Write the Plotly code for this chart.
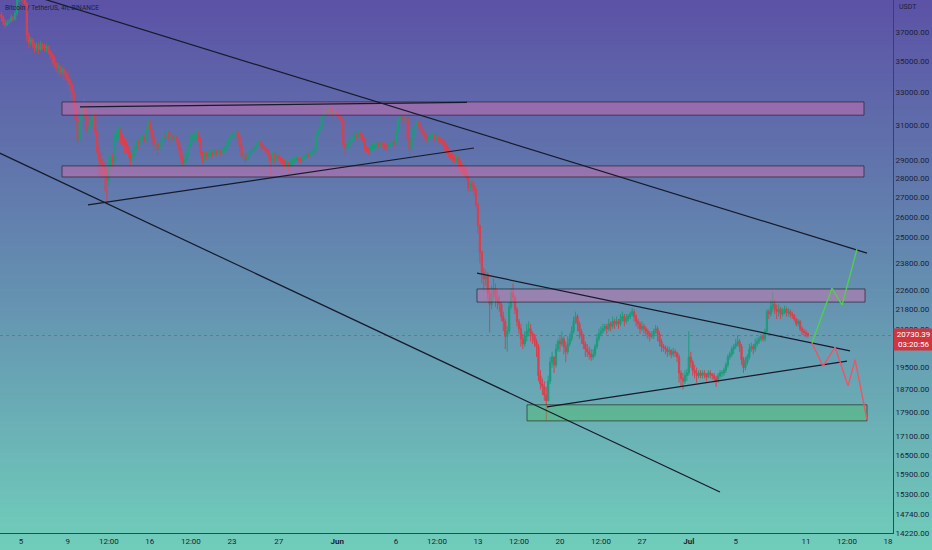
import math
import pandas as pd
import plotly.graph_objects as go

# ---------------- data (BTC/USDT 4h, Binance) ----------------
first_open = 38300
closes = [
    38100, 37700, 37500, 37750,                      # May 3 (from 08:00)
    37800, 38100, 37950, 38400, 39400, 39650,        # May 4
    39700, 39400, 39100, 36800, 36300, 36500,        # May 5
    36200, 35900, 36100, 35800, 36200, 36000,        # May 6
    35900, 36050, 35700, 35500, 35300, 34900,        # May 7
    34600, 34700, 34300, 34500, 34200, 34000,        # May 8
    33800, 33500, 33000, 32200, 31300, 30100,        # May 9
    31200, 31800, 32200, 31500, 30700, 30900,        # May 10
    31300, 31700, 30600, 29500, 29000, 28800,        # May 11
    28600, 28300, 27900, 28700, 29100, 28900,        # May 12
    30400, 30500, 30700, 30300, 30100, 29900,        # May 13
    29700, 29400, 29000, 29300, 29600, 30000,        # May 14
    29900, 30200, 30300, 30100, 30700, 31200,        # May 15
    30700, 30300, 29800, 29900, 29600, 29800,        # May 16
    30100, 30400, 30300, 30600, 30200, 30400,        # May 17
    30200, 30300, 30000, 29600, 29100, 28800,        # May 18
    29000, 29300, 29800, 30200, 30300, 30300,        # May 19
    30400, 30200, 29400, 29100, 29300, 29200,        # May 20
    29300, 29400, 29300, 29500, 29400, 29450,        # May 21
    29400, 29500, 29600, 29800, 30200, 30300,        # May 22
    30400, 30500, 30600, 30300, 29800, 29200,        # May 23
    29300, 29000, 29200, 29400, 29500, 29600,        # May 24
    29700, 29900, 30000, 29800, 29700, 29600,        # May 25
    29500, 29200, 29000, 29300, 29100, 29200,        # May 26
    29100, 29000, 28900, 28700, 28800, 28700,        # May 27
    28800, 28900, 29000, 29100, 29000, 29000,        # May 28
    29100, 29200, 29300, 29200, 29400, 29450,        # May 29
    29600, 30400, 30700, 30900, 31500, 31700,        # May 30
    31900, 31700, 32000, 31800, 31600, 31800,        # May 31
    31600, 31500, 31300, 29900, 29700, 29800,        # Jun 1
    29900, 30100, 30200, 30400, 30300, 30500,        # Jun 2
    30400, 30200, 29700, 29600, 29500, 29700,        # Jun 3
    29700, 29800, 29900, 29800, 29900, 29850,        # Jun 4
    29800, 29700, 29800, 29900, 30000, 29900,        # Jun 5
    30600, 31300, 31500, 31400, 31300, 31400,        # Jun 6
    30200, 29600, 30200, 30800, 31000, 31200,        # Jun 7
    30900, 30700, 30500, 30300, 30200, 30300,        # Jun 8
    30300, 30400, 30200, 30300, 30100, 30100,        # Jun 9
    30000, 29800, 29600, 29400, 29200, 29100,        # Jun 10
    29000, 29100, 28900, 28600, 28500, 28400,        # Jun 11
    28100, 27500, 27700, 27600, 27400, 26600,        # Jun 12
    25600, 24300, 23400, 23100, 23300, 22500,        # Jun 13
    22000, 22400, 22700, 22300, 22100, 22000,        # Jun 14
    21500, 21300, 20700, 20900, 21900, 22500,        # Jun 15
    22300, 21800, 21300, 21000, 20600, 20400,        # Jun 16
    20700, 20900, 21000, 20800, 20700, 20500,        # Jun 17
    20300, 19200, 18900, 18800, 18500, 18300,        # Jun 18
    19000, 19700, 19900, 19600, 20200, 20500,        # Jun 19
    20400, 20600, 20300, 20100, 20400, 20600,        # Jun 20
    20900, 21300, 21500, 21200, 20900, 20700,        # Jun 21
    20400, 20200, 20100, 20000, 19900, 20000,        # Jun 22
    20300, 20600, 20800, 20900, 21000, 21100,        # Jun 23
    21000, 21200, 21100, 21300, 21200, 21300,        # Jun 24
    21200, 21400, 21500, 21300, 21400, 21500,        # Jun 25
    21600, 21700, 21500, 21300, 21200, 21000,        # Jun 26
    21100, 21000, 20900, 20800, 20700, 20750,        # Jun 27
    20900, 21000, 20800, 20500, 20300, 20250,        # Jun 28
    20200, 20100, 20150, 20000, 20100, 20050,        # Jun 29
    19900, 19300, 19100, 19000, 19200, 19300,        # Jun 30
    19900, 19700, 19400, 19300, 19200, 19300,        # Jul 1
    19200, 19300, 19250, 19150, 19300, 19250,        # Jul 2
    19200, 19100, 19000, 19200, 19300, 19300,        # Jul 3
    19400, 19600, 19900, 20000, 20200, 20300,        # Jul 4
    20400, 20500, 20300, 19800, 19500, 19700,        # Jul 5
    19900, 20200, 20300, 20200, 20400, 20500,        # Jul 6
    20600, 20700, 20600, 20900, 21700, 21600,        # Jul 7
    21900, 22000, 21800, 21700, 21800, 21600,        # Jul 8
    21700, 21800, 21650, 21700, 21600, 21550,        # Jul 9
    21400, 21200, 21300, 21000, 20900, 20850,        # Jul 10
    20800, 20730.39,                                 # Jul 11
]
highs = [
    38500, 38200, 37900, 37900,
    37950, 38300, 38200, 38600, 39900, 39800,
    39900, 39800, 39500, 39200, 37000, 36700,
    36600, 36300, 36300, 36300, 36400, 36300,
    36200, 36200, 36100, 35800, 35600, 35400,
    35000, 34900, 34800, 34700, 34600, 34400,
    34300, 33900, 33600, 33200, 32300, 31400,
    31500, 32200, 32650, 32400, 31600, 31200,
    31600, 32100, 31900, 30700, 29800, 29400,
    29100, 28900, 28700, 29300, 29300, 29400,
    30500, 30700, 30950, 30800, 30500, 30300,
    30100, 29800, 29500, 29500, 29800, 30200,
    30200, 30400, 30500, 30500, 30900, 31400,
    31300, 30800, 30400, 30200, 30000, 30000,
    30300, 30600, 30600, 30700, 30600, 30600,
    30500, 30500, 30400, 30100, 29700, 29300,
    29300, 29500, 29900, 30500, 30500, 30500,
    30700, 30600, 30300, 29500, 29500, 29500,
    29500, 29600, 29500, 29600, 29600, 29600,
    29600, 29700, 29800, 30000, 30300, 30450,
    30600, 30600, 30650, 30600, 30400, 29900,
    29500, 29300, 29400, 29600, 29700, 29800,
    29900, 30100, 30200, 30100, 29900, 29800,
    29700, 29600, 29300, 29500, 29400, 29400,
    29300, 29200, 29100, 29000, 29000, 28900,
    29000, 29100, 29200, 29200, 29200, 29100,
    29200, 29300, 29400, 29400, 29500, 29600,
    29800, 30500, 30900, 31000, 31600, 31800,
    32200, 32100, 32350, 32200, 31900, 32000,
    31900, 31700, 31600, 31400, 30000, 30000,
    30100, 30300, 30400, 30600, 30500, 30700,
    30600, 30500, 30300, 29800, 29700, 29800,
    29900, 29900, 30000, 30000, 30000, 30000,
    30000, 29900, 29900, 30000, 30100, 30100,
    30800, 31500, 31700, 31600, 31500, 31600,
    31400, 30300, 30400, 31000, 31200, 31500,
    31300, 31000, 30800, 30600, 30500, 30500,
    30500, 30600, 30500, 30500, 30400, 30300,
    30200, 30100, 29900, 29700, 29500, 29400,
    29300, 29300, 29200, 29000, 28800, 28700,
    28600, 28200, 27900, 27900, 27800, 27500,
    26700, 25600, 24400, 23600, 23500, 23400,
    22700, 22800, 23100, 22900, 22600, 22400,
    22100, 21700, 21400, 21100, 22100, 22700,
    22900, 22400, 21900, 21400, 21200, 20800,
    20900, 21200, 21300, 21200, 20900, 20800,
    20600, 20400, 19400, 19100, 19000, 18800,
    19200, 19900, 20100, 19900, 20400, 20600,
    20700, 20900, 20700, 20500, 20700, 20800,
    21100, 21500, 21700, 21600, 21300, 21000,
    20800, 20500, 20400, 20300, 20200, 20200,
    20400, 20800, 21000, 21100, 21200, 21200,
    21200, 21400, 21300, 21500, 21400, 21500,
    21400, 21600, 21700, 21600, 21600, 21600,
    21700, 21860, 21800, 21600, 21400, 21300,
    21300, 21200, 21100, 21000, 20900, 20900,
    21000, 21150, 21100, 20900, 20600, 20400,
    20350, 20300, 20300, 20200, 20250, 20200,
    20100, 20000, 19400, 19300, 19400, 19450,
    20900, 20100, 19800, 19600, 19500, 19400,
    19400, 19400, 19400, 19300, 19400, 19400,
    19300, 19300, 19200, 19300, 19400, 19400,
    19500, 19700, 20000, 20100, 20300, 20400,
    20600, 20750, 20600, 20400, 19900, 19900,
    20000, 20400, 20450, 20400, 20600, 20650,
    20700, 20800, 20800, 21000, 21800, 21800,
    22200, 22530, 22200, 22000, 22000, 21900,
    21850, 21950, 21900, 21850, 21800, 21700,
    21600, 21450, 21400, 21350, 21100, 21000,
    20950, 20850,
]
lows = [
    37800, 37500, 37300, 37450,
    37600, 37700, 37800, 37850, 38200, 39200,
    39300, 39100, 38900, 36400, 35900, 36100,
    35900, 35600, 35700, 35500, 35700, 35800,
    35700, 35600, 35500, 35200, 34800, 34600,
    34300, 34200, 34000, 34100, 33800, 33700,
    33400, 33100, 32600, 31800, 30900, 29800,
    29900, 31000, 31600, 30600, 30200, 30400,
    30700, 31000, 30400, 29300, 28200, 28000,
    28100, 27300, 26700, 27600, 28500, 28600,
    28800, 30000, 30200, 29900, 29800, 29400,
    29400, 29100, 28700, 28900, 29200, 29500,
    29600, 29800, 30000, 29900, 30000, 30600,
    30500, 29900, 29500, 29500, 29200, 29500,
    29800, 30000, 30100, 30200, 29900, 30100,
    30000, 30000, 29800, 29300, 28800, 28650,
    28700, 28900, 29200, 29700, 30000, 30000,
    30100, 30000, 29200, 28800, 28900, 29000,
    29100, 29200, 29100, 29200, 29200, 29300,
    29200, 29300, 29400, 29500, 29700, 30000,
    30200, 30300, 30300, 29900, 29400, 29000,
    28900, 28800, 28900, 29100, 29300, 29400,
    29500, 29600, 29800, 29600, 29500, 29400,
    29300, 28900, 28200, 28800, 28800, 28900,
    28900, 28800, 28700, 28500, 28500, 28400,
    28600, 28700, 28800, 28900, 28900, 28800,
    28900, 29000, 29100, 29100, 29200, 29300,
    29400, 29500, 30300, 30600, 30800, 31400,
    31600, 31500, 31600, 31500, 31300, 31500,
    31400, 31300, 31100, 29700, 29300, 29500,
    29600, 29800, 30000, 30100, 30100, 30200,
    30200, 30000, 29500, 29400, 29300, 29500,
    29500, 29600, 29700, 29700, 29700, 29700,
    29600, 29500, 29600, 29700, 29800, 29700,
    29800, 30500, 31200, 31100, 31100, 31100,
    30000, 29200, 29500, 30100, 30600, 30800,
    30700, 30400, 30200, 30000, 29900, 30000,
    30100, 30200, 30000, 30000, 29900, 29900,
    29800, 29500, 29300, 29100, 29000, 28900,
    28800, 28800, 28500, 28300, 28200, 28100,
    27900, 27300, 27300, 27300, 27100, 26500,
    25200, 23800, 22900, 22600, 22800, 22200,
    20850, 21800, 22200, 21900, 21800, 21700,
    21300, 20900, 20200, 20100, 20800, 21800,
    22100, 21600, 21100, 20800, 20300, 20200,
    20300, 20500, 20700, 20500, 20400, 20300,
    19900, 19000, 18700, 18500, 18300, 17620,
    18300, 18900, 19500, 19300, 19500, 20100,
    20100, 20300, 20000, 19700, 20000, 20300,
    20500, 20800, 21200, 20900, 20600, 20400,
    20200, 19900, 19900, 19800, 19750, 19800,
    19900, 20200, 20500, 20700, 20800, 20900,
    20800, 20900, 20900, 21000, 21000, 21100,
    21000, 21100, 21300, 21100, 21200, 21300,
    21400, 21500, 21300, 21100, 21000, 20800,
    20900, 20800, 20700, 20600, 20500, 20600,
    20600, 20800, 20500, 20300, 20100, 20100,
    20000, 19900, 19950, 19850, 19900, 19900,
    19700, 18950, 18800, 18700, 18900, 19000,
    19200, 19500, 19200, 19100, 18950, 19100,
    19100, 19100, 19100, 19000, 19100, 19100,
    19050, 18950, 18800, 18950, 19100, 19150,
    19200, 19300, 19500, 19800, 19900, 20000,
    20200, 20300, 20100, 19600, 19300, 19400,
    19600, 19800, 20100, 20000, 20100, 20300,
    20400, 20500, 20500, 20500, 20800, 21400,
    21500, 21700, 21600, 21400, 21500, 21400,
    21500, 21600, 21500, 21500, 21450, 21400,
    21300, 21100, 21100, 20900, 20750, 20700,
    20650, 20650,
]
first_candle = "2022-05-03 08:00"
last_price = 20730.39
countdown = "03:20:56"

# drawings (time, price)
trend_top_t = ["2022-05-04 22:00", "2022-07-16 05:00"]
trend_top_p = [40000, 24270]
trend_low_t = ["2022-05-02 08:30", "2022-07-03 15:50"]
trend_low_p = [29640, 15370]
flat_res_t = ["2022-05-10 00:50", "2022-06-12 01:40"]
flat_res_p = [32100, 32370]
may_sup_t = ["2022-05-10 17:15", "2022-06-12 15:50"]
may_sup_p = [26610, 29670]
tri_top_t = ["2022-06-12 22:05", "2022-07-14 18:15"]
tri_top_p = [23360, 20130]
tri_low_t = ["2022-06-18 21:35", "2022-07-14 12:00"]
tri_low_p = [18090, 19740]

zones = [  # (t0, t1, p_low, p_high, kind)
    ("2022-05-08 12:00", "2022-07-15 22:50", 31590, 32400, "supply"),
    ("2022-05-08 12:00", "2022-07-15 22:50", 28070, 28670, "supply"),
    ("2022-06-12 22:05", "2022-07-16 01:00", 22100, 22660, "supply"),
    ("2022-06-17 04:35", "2022-07-16 05:00", 17610, 18160, "demand"),
]
bull_t = ["2022-07-11 12:15", "2022-07-13 05:20", "2022-07-14 01:55", "2022-07-15 08:25"]
bull_p = [20440, 22700, 21970, 24450]
bear_t = ["2022-07-11 12:15", "2022-07-12 10:50", "2022-07-13 11:30",
          "2022-07-14 14:10", "2022-07-15 04:30", "2022-07-16 05:00"]
bear_p = [20440, 19550, 20280, 18830, 19800, 17650]

x_tick_vals = ["2022-05-05", "2022-05-09", "2022-05-12 12:00", "2022-05-16", "2022-05-19 12:00",
               "2022-05-23", "2022-05-27", "2022-06-01", "2022-06-06", "2022-06-09 12:00",
               "2022-06-13", "2022-06-16 12:00", "2022-06-20", "2022-06-23 12:00", "2022-06-27",
               "2022-07-01", "2022-07-05", "2022-07-11", "2022-07-14 12:00", "2022-07-18"]
x_tick_text = ["5", "9", "12:00", "16", "12:00", "23", "27", "<b>Jun</b>", "6", "12:00",
               "13", "12:00", "20", "12:00", "27", "<b>Jul</b>", "5", "11", "12:00", "18"]
y_tick_vals = [37000, 35000, 33000, 31000, 29000, 28000, 27000, 26000, 25000, 23800,
               22600, 21800, 21000, 19500, 18700, 17900, 17100, 16500, 15900, 15300,
               14740, 14220]

# ---------------- figure ----------------
n = len(closes)
assert len(highs) == n and len(lows) == n
times = pd.date_range(first_candle, periods=n, freq="4h")
opens = [first_open] + closes[:-1]
hi = [max(h, o, c) for h, o, c in zip(highs, opens, closes)]
lo = [min(l, o, c) for l, o, c in zip(lows, opens, closes)]

UP = "#1e9b7c"
DOWN = "#d8414f"
INK = "#161a2b"
TXT = "#1b2238"
FONT = "Roboto"

fig = go.Figure()

x_range = ["2022-05-03 05:00", "2022-07-18 10:16"]

fig.add_trace(go.Scatter(x=x_range, y=[last_price, last_price], mode="lines",
                         line=dict(color="rgba(205,70,85,0.85)", width=1, dash="dot"),
                         hoverinfo="skip"))

for (t0, t1, p0, p1, kind) in zones:
    if kind == "supply":
        fc, lc = "rgba(214,112,176,0.45)", "rgba(45,40,60,0.75)"
    else:
        fc, lc = "rgba(80,190,110,0.45)", "rgba(35,60,50,0.75)"
    fig.add_trace(go.Scatter(x=[t0, t1, t1, t0, t0], y=[p0, p0, p1, p1, p0],
                             mode="lines", fill="toself", fillcolor=fc,
                             line=dict(color=lc, width=1), hoverinfo="skip"))

fig.add_trace(go.Candlestick(
    x=times, open=opens, high=hi, low=lo, close=closes,
    increasing=dict(line=dict(color=UP, width=1), fillcolor=UP),
    decreasing=dict(line=dict(color=DOWN, width=1), fillcolor=DOWN),
    whiskerwidth=0, hoverinfo="skip"))

for t, p in [(trend_top_t, trend_top_p), (trend_low_t, trend_low_p),
             (flat_res_t, flat_res_p), (may_sup_t, may_sup_p),
             (tri_top_t, tri_top_p), (tri_low_t, tri_low_p)]:
    fig.add_trace(go.Scatter(x=t, y=p, mode="lines",
                             line=dict(color=INK, width=1.2), hoverinfo="skip"))

fig.add_trace(go.Scatter(x=bull_t, y=bull_p, mode="lines",
                         line=dict(color="#4fd04a", width=1.4), hoverinfo="skip"))
fig.add_trace(go.Scatter(x=bear_t, y=bear_p, mode="lines",
                         line=dict(color="#ee5563", width=1.4), hoverinfo="skip"))

# vertical gradient background
stops = [(0.0, (92, 82, 166)), (0.5, (100, 140, 176)), (1.0, (112, 206, 186))]
def grad(f):
    for (a, ca), (b, cb) in zip(stops[:-1], stops[1:]):
        if a <= f <= b:
            k = (f - a) / (b - a)
            return tuple(int(round(ca[i] + (cb[i] - ca[i]) * k)) for i in range(3))
    return stops[-1][1]

shapes = []
N = 120
ytop, ybot = 1.0, -17 / 533
for i in range(N):
    y1 = ytop - (ytop - ybot) * i / N
    y0 = ytop - (ytop - ybot) * (i + 1) / N
    c = grad((i + 0.5) / N)
    shapes.append(dict(type="rect", xref="paper", yref="paper",
                       x0=-0.02, x1=1.06, y0=y0 - 0.001, y1=y1 + 0.001,
                       fillcolor="rgb(%d,%d,%d)" % c, line=dict(width=0), layer="below"))

ymin, ymax = 14213, 39370
fig.update_layout(
    width=932, height=550,
    margin=dict(l=0, r=39, t=0, b=17),
    paper_bgcolor="rgb(100,140,176)",
    plot_bgcolor="rgba(0,0,0,0)",
    showlegend=False,
    boxgap=0.1,
    shapes=shapes,
    font=dict(family=FONT, size=8, color=TXT),
    xaxis=dict(type="date", range=x_range, rangeslider=dict(visible=False),
               tickvals=x_tick_vals, ticktext=x_tick_text, tickangle=0,
               showgrid=False, zeroline=False, showline=True, linecolor="#2c4a58",
               linewidth=1, ticks="", tickfont=dict(size=8, color=TXT, family=FONT)),
    yaxis=dict(type="log", range=[math.log10(ymin), math.log10(ymax)], side="right",
               tickvals=y_tick_vals, ticktext=["%.2f" % v for v in y_tick_vals],
               showgrid=False, zeroline=False, showline=True, linecolor="#2c4a58",
               linewidth=1, ticks="", tickfont=dict(size=8, color=TXT, family=FONT)),
    annotations=[
        dict(xref="paper", yref="paper", x=0.003, y=1 - 8 / 533, xanchor="left",
             yanchor="middle", showarrow=False, text="Bitcoin / TetherUS, 4h, BINANCE",
             font=dict(size=6.6, color=TXT, family=FONT)),
        dict(xref="paper", yref="paper", x=1.004, y=1 - 7 / 533, xanchor="left",
             yanchor="middle", showarrow=False, text="USDT",
             font=dict(size=7, color=TXT, family=FONT)),
        dict(xref="paper", yref="y", x=1.0, y=math.log10(last_price) - 0.0034,
             xanchor="left", yanchor="middle", showarrow=False,
             text="%.2f<br>%s" % (last_price, countdown), align="center",
             bgcolor="#d2353f", borderpad=1, width=37,
             font=dict(size=8, color="white", family=FONT)),
    ],
)

fig.write_html("out.html", config={"displayModeBar": False},
               post_script="document.body.style.margin='0';document.body.style.padding='0';")
